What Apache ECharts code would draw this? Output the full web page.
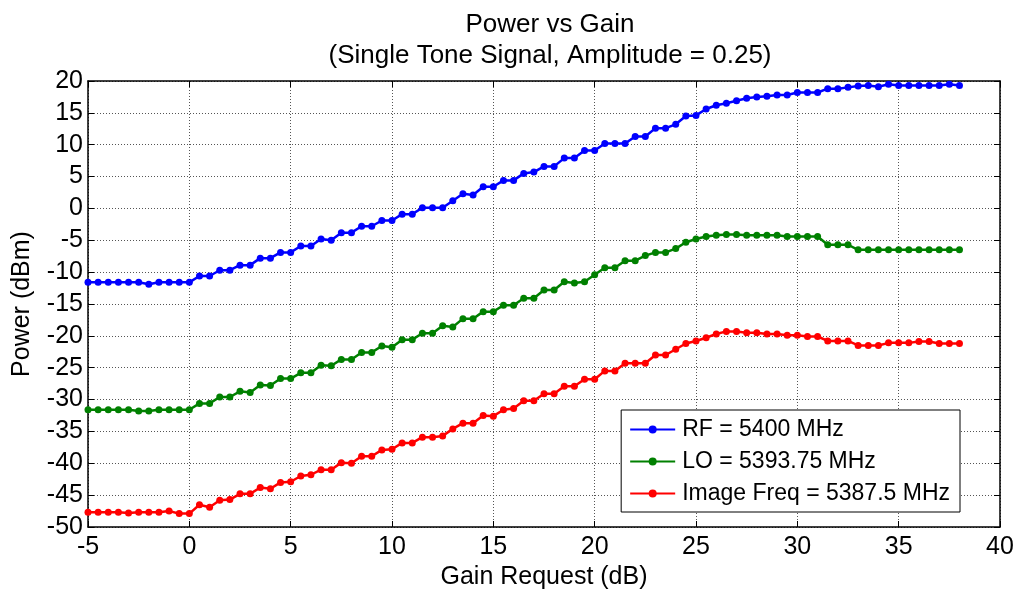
<!DOCTYPE html>
<html>
<head>
<meta charset="utf-8">
<script src="https://cdn.jsdelivr.net/npm/echarts@6/dist/echarts.min.js"></script>
<style>
  html, body { margin: 0; padding: 0; background: #fff; }
  #chart { width: 1021px; height: 595px; }
</style>
</head>
<body>
<div id="chart"></div>
<script>
// gain request steps, -5 .. 38 dB in 0.5 dB steps
var gain = [];
for (var g = -5; g <= 38.001; g += 0.5) gain.push(Math.round(g * 10) / 10);

var rfPower = [
  -11.6, -11.6, -11.6, -11.6, -11.6, -11.6, -11.9, -11.6, -11.6, -11.6, -11.6,
  -10.6, -10.6, -9.7, -9.7, -8.9, -8.9, -7.8, -7.8, -6.9, -6.9,
  -5.9, -5.9, -4.8, -5.0, -3.8, -3.8, -2.8, -2.8, -1.9, -1.9,
  -0.9, -0.9, 0.1, 0.1, 0.1, 1.2, 2.3, 2.1, 3.4, 3.4,
  4.4, 4.4, 5.5, 5.7, 6.6, 6.6, 7.9, 7.9, 9.1, 9.1,
  10.2, 10.2, 10.2, 11.3, 11.3, 12.6, 12.6, 13.2, 14.5, 14.6,
  15.6, 16.2, 16.5, 16.9, 17.3, 17.5, 17.6, 17.8, 17.8, 18.2,
  18.2, 18.2, 18.8, 18.8, 19.0, 19.2, 19.3, 19.1, 19.5, 19.3,
  19.3, 19.3, 19.3, 19.3, 19.5, 19.3
];

var loPower = [
  -31.6, -31.6, -31.6, -31.6, -31.6, -31.8, -31.8, -31.6, -31.6, -31.6, -31.6,
  -30.6, -30.6, -29.6, -29.6, -28.7, -28.9, -27.7, -27.8, -26.7, -26.7,
  -25.8, -25.8, -24.6, -24.7, -23.7, -23.7, -22.6, -22.6, -21.6, -21.8,
  -20.6, -20.6, -19.6, -19.6, -18.4, -18.6, -17.3, -17.3, -16.2, -16.2,
  -15.2, -15.2, -14.1, -14.1, -12.8, -12.8, -11.5, -11.7, -11.5, -10.4,
  -9.3, -9.3, -8.2, -8.2, -7.4, -6.9, -6.9, -6.3, -5.3, -4.8,
  -4.4, -4.2, -4.1, -4.1, -4.2, -4.2, -4.2, -4.2, -4.4, -4.4,
  -4.4, -4.4, -5.7, -5.7, -5.7, -6.5, -6.5, -6.5, -6.5, -6.5,
  -6.5, -6.5, -6.5, -6.5, -6.5, -6.5
];

var imagePower = [
  -47.7, -47.7, -47.7, -47.7, -47.8, -47.7, -47.7, -47.7, -47.5, -47.9, -47.9,
  -46.5, -46.9, -45.8, -45.7, -44.8, -44.8, -43.8, -44.0, -43.0, -42.9,
  -42.0, -41.8, -41.0, -41.0, -39.9, -40.0, -38.9, -38.9, -37.9, -37.8,
  -36.8, -36.8, -35.9, -35.9, -35.7, -34.6, -33.7, -33.7, -32.5, -32.6,
  -31.6, -31.4, -30.2, -30.2, -29.1, -29.1, -27.9, -27.9, -26.8, -26.8,
  -25.5, -25.5, -24.3, -24.3, -24.3, -23.0, -23.0, -22.1, -21.2, -20.8,
  -20.3, -19.7, -19.3, -19.3, -19.5, -19.5, -19.7, -19.7, -19.9, -19.9,
  -20.1, -20.1, -20.8, -20.8, -20.8, -21.5, -21.5, -21.5, -21.1, -21.1,
  -21.1, -20.9, -20.9, -21.2, -21.2, -21.2
];

var seriesNames = ['RF = 5400 MHz', 'LO = 5393.75 MHz', 'Image Freq = 5387.5 MHz'];
var seriesColors = ['#0000ff', '#008000', '#ff0000'];
var seriesValues = [rfPower, loPower, imagePower];

var font = 'Liberation Sans, Arial, sans-serif';

function pairs(vals) {
  return gain.map(function (x, i) { return [x, vals[i]]; });
}

var gridLine = { show: true, lineStyle: { color: '#555', type: [1, 2], width: 1 } };
var frameLine = { show: true, onZero: false, lineStyle: { color: '#000', width: 1.5 } };
var tickIn = { show: true, inside: true, length: 6, lineStyle: { color: '#000', width: 1 } };

var option = {
  animation: false,
  backgroundColor: '#fff',
  title: {
    text: 'Power vs Gain\n(Single Tone Signal, Amplitude = 0.25)',
    left: 545,
    top: 4,
    textAlign: 'center',
    textStyle: {
      fontFamily: font, fontSize: 26, fontWeight: 'normal', color: '#000', lineHeight: 31
    }
  },
  grid: { left: 88, right: 21, top: 81, bottom: 68 },
  legend: {
    orient: 'vertical',
    right: 61,
    bottom: 83,
    backgroundColor: '#fff',
    borderColor: '#000',
    borderWidth: 1,
    borderRadius: 0,
    padding: [8, 10, 7, 8],
    itemGap: 9,
    itemWidth: 45,
    itemHeight: 10,
    textStyle: { fontFamily: font, fontSize: 23, color: '#000', padding: [0, 0, 0, 2] },
    data: seriesNames
  },
  xAxis: [{
    type: 'value',
    min: -5, max: 40, interval: 5,
    name: 'Gain Request (dB)',
    nameLocation: 'middle',
    nameGap: 38,
    nameTextStyle: { fontFamily: font, fontSize: 25, color: '#000' },
    axisLine: frameLine,
    axisTick: tickIn,
    axisLabel: { fontFamily: font, fontSize: 25, color: '#000', margin: 8 },
    splitLine: gridLine
  }, {
    type: 'value',
    position: 'top',
    min: -5, max: 40, interval: 5,
    axisLine: frameLine,
    axisTick: tickIn,
    axisLabel: { show: false },
    splitLine: { show: false }
  }],
  yAxis: [{
    type: 'value',
    min: -50, max: 20, interval: 5,
    name: 'Power (dBm)',
    nameLocation: 'middle',
    nameGap: 53,
    nameTextStyle: { fontFamily: font, fontSize: 25, color: '#000' },
    axisLine: frameLine,
    axisTick: tickIn,
    axisLabel: { fontFamily: font, fontSize: 25, color: '#000', margin: 5 },
    splitLine: gridLine
  }, {
    type: 'value',
    position: 'right',
    min: -50, max: 20, interval: 5,
    axisLine: frameLine,
    axisTick: tickIn,
    axisLabel: { show: false },
    splitLine: { show: false }
  }],
  series: seriesNames.map(function (n, k) {
    return {
      name: n,
      type: 'line',
      data: pairs(seriesValues[k]),
      symbol: 'circle',
      symbolSize: 7,
      showSymbol: true,
      color: seriesColors[k],
      lineStyle: { width: 2.5, color: seriesColors[k] },
      itemStyle: { color: seriesColors[k] }
    };
  })
};

var chart = echarts.init(document.getElementById('chart'));
chart.setOption(option);
</script>
</body>
</html>
